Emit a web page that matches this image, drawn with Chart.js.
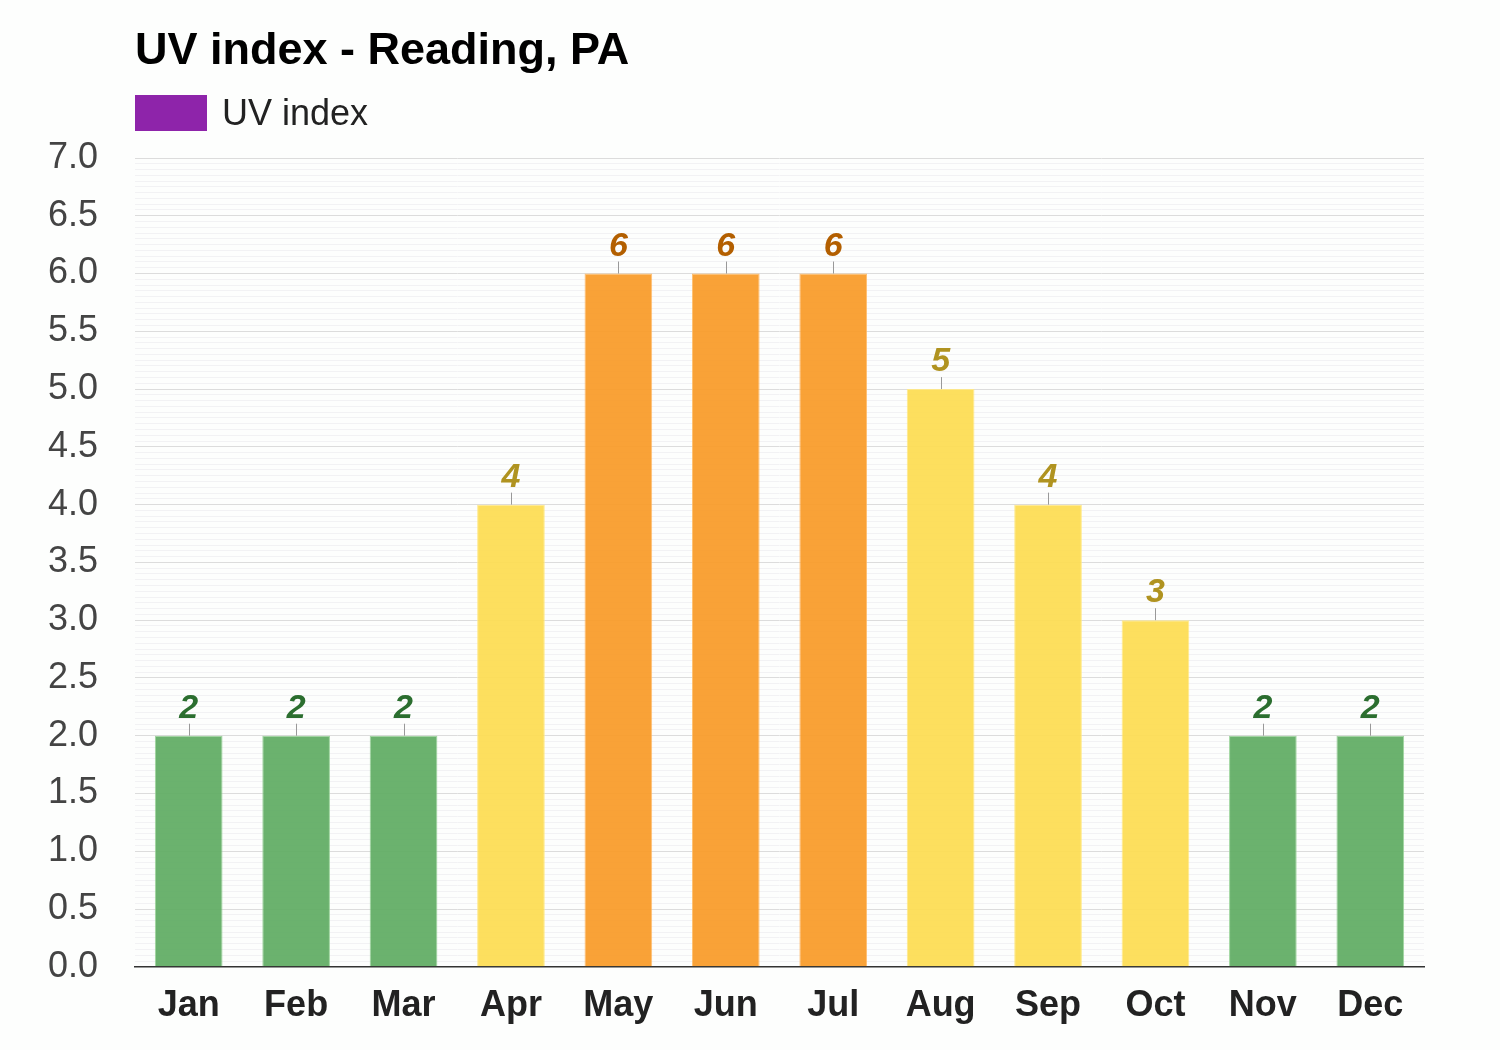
<!DOCTYPE html>
<html>
<head>
<meta charset="utf-8">
<script src="https://cdn.jsdelivr.net/npm/chart.js@4/dist/chart.umd.min.js"></script>
<style>
  html, body { margin: 0; padding: 0; background: #fdfefd; }
  #wrap { width: 1500px; height: 1050px; }
</style>
</head>
<body>
<div id="wrap"><canvas id="uvChart" width="1500" height="1050"></canvas></div>
<script>
'use strict';

const months = ['Jan', 'Feb', 'Mar', 'Apr', 'May', 'Jun', 'Jul', 'Aug', 'Sep', 'Oct', 'Nov', 'Dec'];
const uvValues = [2, 2, 2, 4, 6, 6, 6, 5, 4, 3, 2, 2];
const titleText = 'UV index - Reading, PA';
const seriesName = 'UV index';

// colour by UV level
function barColor(v) {
  if (v <= 2) return 'rgba(94, 171, 98, 0.92)';
  if (v <= 5) return 'rgba(253, 220, 80, 0.92)';
  return 'rgba(249, 154, 38, 0.92)';
}
function edgeColor(v) {
  if (v <= 2) return 'rgba(150, 210, 150, 0.9)';
  if (v <= 5) return 'rgba(255, 232, 130, 0.9)';
  return 'rgba(255, 185, 100, 0.9)';
}
function labelColor(v) {
  if (v <= 2) return '#2b6e2f';
  if (v <= 5) return '#b09320';
  return '#b35f00';
}

const FONT = '"Liberation Sans", Arial, Helvetica, sans-serif';

// title + legend, lined up with the plot's left edge
const headerPlugin = {
  id: 'header',
  afterDraw(chart) {
    const c = chart.ctx;
    const left = chart.chartArea.left;
    c.save();
    c.fillStyle = '#000';
    c.font = 'bold 45px ' + FONT;
    c.textBaseline = 'alphabetic';
    c.fillText(titleText, left, 64);
    c.fillStyle = '#8e24aa';
    c.fillRect(left, 95, 72, 36);
    c.fillStyle = '#222';
    c.font = '36px ' + FONT;
    c.fillText(seriesName, left + 87, 125);
    c.restore();
  }
};

// value labels with a small marker line above each bar
const valueLabels = {
  id: 'valueLabels',
  afterDatasetsDraw(chart) {
    const c = chart.ctx;
    const meta = chart.getDatasetMeta(0);
    c.save();
    meta.data.forEach((bar, i) => {
      const v = chart.data.datasets[0].data[i];
      c.strokeStyle = '#999';
      c.lineWidth = 1;
      c.beginPath();
      c.moveTo(Math.round(bar.x) + 0.5, bar.y);
      c.lineTo(Math.round(bar.x) + 0.5, bar.y - 12);
      c.stroke();
      c.fillStyle = labelColor(v);
      c.font = 'italic bold 34px ' + FONT;
      c.textAlign = 'center';
      c.textBaseline = 'alphabetic';
      c.fillText(String(v), bar.x, bar.y - 18);
    });
    c.restore();
  }
};

const ctx = document.getElementById('uvChart');

let uvChart = new Chart(ctx, {
  type: 'bar',
  data: {
    labels: months,
    datasets: [{
      label: seriesName,
      data: uvValues,
      backgroundColor: uvValues.map(barColor),
      borderColor: uvValues.map(edgeColor),
      borderWidth: 1,
      categoryPercentage: 1,
      barPercentage: 0.63
    }]
  },
  options: {
    responsive: false,
    animation: false,
    layout: {
      padding: { top: 158, left: 48, right: 76, bottom: 4 }
    },
    plugins: {
      legend: { display: false },
      title: { display: false },
      tooltip: { enabled: false }
    },
    scales: {
      x: {
        grid: { display: false, drawTicks: false },
        border: { color: '#333', width: 1.5 },
        ticks: {
          color: '#222',
          padding: 18,
          font: { family: FONT, size: 36, weight: 'bold' }
        }
      },
      y: {
        min: 0,
        max: 7,
        border: { display: false },
        afterFit: (scale) => { scale.width = 87; },
        grid: {
          drawTicks: false,
          color: (g) => {
            const v = g.tick ? g.tick.value : 0;
            return Math.abs(v * 2 - Math.round(v * 2)) < 1e-6 ? '#dcdcdc' : '#f2f2f4';
          },
          lineWidth: 1
        },
        ticks: {
          stepSize: 0.05,
          maxTicksLimit: 200,
          autoSkip: false,
          padding: 37,
          color: '#444',
          font: { family: FONT, size: 36 },
          callback: (v) => Math.abs(v * 2 - Math.round(v * 2)) < 1e-6 ? Number(v).toFixed(1) : ''
        }
      }
    }
  },
  plugins: [headerPlugin, valueLabels]
});
</script>
</body>
</html>
